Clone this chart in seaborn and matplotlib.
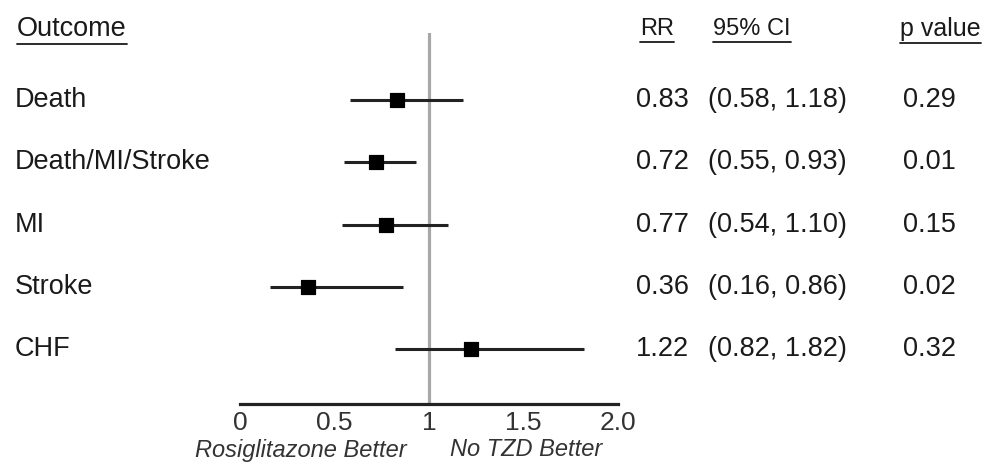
import numpy as np
import pandas as pd
import seaborn as sns
import matplotlib.pyplot as plt
from matplotlib.lines import Line2D

outcomes = ['Death', 'Death/MI/Stroke', 'MI', 'Stroke', 'CHF']
rr = [0.83, 0.72, 0.77, 0.36, 1.22]
ci_low = [0.58, 0.55, 0.54, 0.16, 0.82]
ci_high = [1.18, 0.93, 1.10, 0.86, 1.82]
p_values = ['0.29', '0.01', '0.15', '0.02', '0.32']
tick_vals = [0, 0.5, 1, 1.5, 2.0]
tick_labels = ['0', '0.5', '1', '1.5', '2.0']

df = pd.DataFrame({'outcome': outcomes, 'rr': rr, 'lo': ci_low, 'hi': ci_high,
                   'row': np.arange(len(outcomes))})

sns.set_style('white')
plt.rcParams['font.family'] = ['Liberation Sans', 'DejaVu Sans']

W, H = 992, 462
fig = plt.figure(figsize=(W / 100, H / 100), dpi=100)

# plot area in pixels: x 240..618, y 33..404 (from top)
ax = fig.add_axes([240 / W, 1 - 404 / H, (618 - 240) / W, (404 - 33) / H])
row_px = [100, 162, 225, 287, 349]
step = (row_px[-1] - row_px[0]) / 4
ax.set_ylim((404 - row_px[0]) / step, (33 - row_px[0]) / step)
ax.set_xlim(0, 2)

ax.axvline(1, color='#a8a8a8', lw=2.3, zorder=1)
ax.hlines(df['row'], df['lo'], df['hi'], color='#222222', lw=2.2, zorder=2)
sns.scatterplot(data=df, x='rr', y='row', marker='s', s=115, color='black',
                edgecolor='black', ax=ax, zorder=3, legend=False)

for s in ['top', 'right', 'left']:
    ax.spines[s].set_visible(False)
ax.spines['bottom'].set_color('#222222')
ax.spines['bottom'].set_linewidth(2.3)
ax.set_yticks([])
ax.set_xticks(tick_vals)
ax.set_xticklabels(tick_labels, fontsize=19, color='#333333')
ax.tick_params(axis='x', length=0, pad=5)
ax.set_xlabel('')
ax.set_ylabel('')


def px(x, y):
    return x / W, 1 - y / H


fs = 19.5
col = '#1a1a1a'
headers = [('Outcome', 17, fs), ('RR', 640, 17), ('95% CI', 713, 17), ('p value', 900, 18)]
htexts = []
for label, x, size in headers:
    t = fig.text(*px(x, 29), label, fontsize=size, va='center', ha='left', color=col)
    htexts.append(t)

for i, name in enumerate(outcomes):
    y = row_px[i]
    fig.text(*px(15, y), name, fontsize=fs, va='center', color=col)
    fig.text(*px(636, y), f'{rr[i]:.2f}', fontsize=fs, va='center', color=col)
    fig.text(*px(708, y), f'({ci_low[i]:.2f}, {ci_high[i]:.2f})', fontsize=fs,
             va='center', color=col)
    fig.text(*px(903, y), p_values[i], fontsize=fs, va='center', color=col)

fig.text(*px(301, 450), 'Rosiglitazone Better', fontsize=17, style='italic',
         ha='center', va='center', color='#333333')
fig.text(*px(526, 450), 'No TZD Better', fontsize=17, style='italic',
         ha='center', va='center', color='#333333')

# underline headers
renderer = fig.canvas.get_renderer()
for t in htexts:
    bb = t.get_window_extent(renderer)
    yl = bb.y0 - 2
    fig.add_artist(Line2D([bb.x0 / W, bb.x1 / W], [yl / H, yl / H],
                          color=col, lw=1.3))

fig.savefig('out.png', dpi=100)
